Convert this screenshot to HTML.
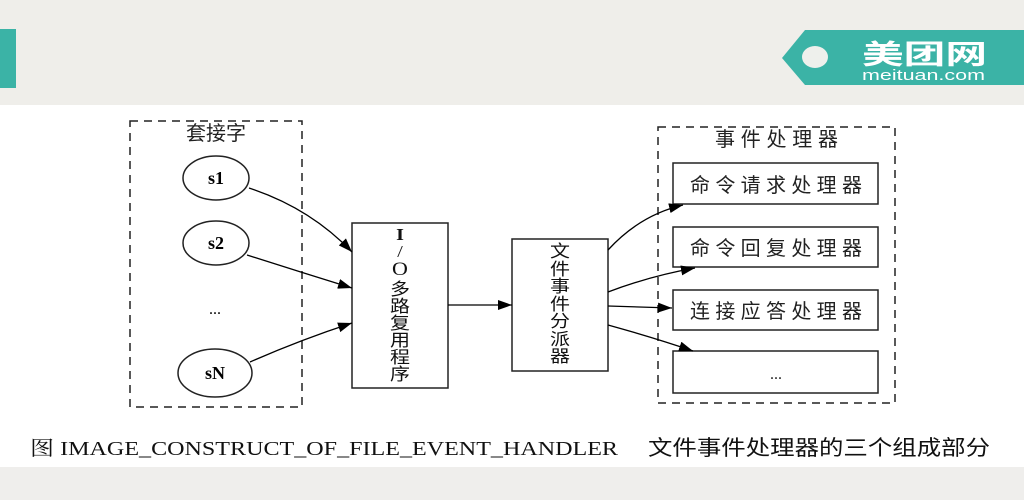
<!DOCTYPE html>
<html><head><meta charset="utf-8"><style>
html,body{margin:0;padding:0;width:1024px;height:500px;overflow:hidden;background:#fff}
svg{display:block}
.cj{font-family:"Liberation Sans","Noto Sans CJK SC",sans-serif}
.sr{font-family:"Liberation Serif","Noto Serif CJK SC",serif}
</style></head><body>
<svg width="1024" height="500" viewBox="0 0 1024 500" xmlns="http://www.w3.org/2000/svg">
<defs>
<marker id="ah" markerWidth="14" markerHeight="10" refX="14" refY="5" orient="auto" markerUnits="userSpaceOnUse">
<path d="M0,0 L14,5 L0,10 z" fill="#000"/>
</marker>
</defs>
<rect x="0" y="0" width="1024" height="105" fill="#efeeea"/>
<rect x="0" y="467" width="1024" height="33" fill="#efeeec"/>
<rect x="0" y="29" width="16" height="59" fill="#3bb3a6"/>
<path d="M805,30 L1024,30 L1024,85 L805,85 L782,58 Z" fill="#3bb3a6"/>
<ellipse cx="815" cy="57" rx="13" ry="11" fill="#eef0ec"/>
<text x="862" y="64" class="cj" font-size="27" font-weight="bold" fill="#fff" textLength="125" lengthAdjust="spacingAndGlyphs">美团网</text>
<text x="862" y="80" font-family="Liberation Sans,sans-serif" font-size="15" fill="#fff" textLength="123" lengthAdjust="spacingAndGlyphs">meituan.com</text>

<g fill="none" stroke="#222" stroke-width="1.5">
<rect x="130" y="121" width="172" height="286" stroke-dasharray="8,6"/>
<rect x="658" y="127" width="237" height="276" stroke-dasharray="8,6"/>
<ellipse cx="216" cy="178" rx="33" ry="22"/>
<ellipse cx="216" cy="243" rx="33" ry="22"/>
<ellipse cx="215" cy="373" rx="37" ry="24"/>
<rect x="352" y="223" width="96" height="165"/>
<rect x="512" y="239" width="96" height="132"/>
<rect x="673" y="163" width="205" height="41"/>
<rect x="673" y="227" width="205" height="40"/>
<rect x="673" y="290" width="205" height="40"/>
<rect x="673" y="351" width="205" height="42"/>
</g>
<g fill="none" stroke="#000" stroke-width="1.3" marker-end="url(#ah)">
<path d="M249,188 Q310,208 352,252"/>
<path d="M247,255 Q300,272 352,288"/>
<path d="M250,362 Q300,340 352,323"/>
<path d="M448,305 L512,305"/>
<path d="M608,250 Q640,215 683,205"/>
<path d="M608,292 Q650,276 695,268"/>
<path d="M608,306 L672,308"/>
<path d="M608,325 Q655,338 693,351"/>
</g>

<text x="216" y="140" class="cj" font-size="20" text-anchor="middle" fill="#222">套接字</text>
<text x="216" y="184" class="sr" font-size="18" font-weight="bold" text-anchor="middle">s1</text>
<text x="216" y="249" class="sr" font-size="18" font-weight="bold" text-anchor="middle">s2</text>
<text x="215" y="314" class="sr" font-size="16" text-anchor="middle">...</text>
<text x="215" y="379" class="sr" font-size="18" font-weight="bold" text-anchor="middle">sN</text>

<g class="cj" font-size="20" text-anchor="middle" fill="#111">
<text transform="translate(400,240) scale(1,0.85)" class="sr" font-weight="bold">I</text>
<text transform="translate(400,257) scale(1,0.85)" class="sr">/</text>
<text transform="translate(400,275) scale(1,0.85)" class="sr" font-size="22">O</text>
<text transform="translate(400,295) scale(1,0.85)">多</text>
<text transform="translate(400,312) scale(1,0.85)">路</text>
<text transform="translate(400,329) scale(1,0.85)">复</text>
<text transform="translate(400,346) scale(1,0.85)">用</text>
<text transform="translate(400,363) scale(1,0.85)">程</text>
<text transform="translate(400,380) scale(1,0.85)">序</text>
</g>

<g class="cj" font-size="20" text-anchor="middle" fill="#111">
<text transform="translate(560,257) scale(1,0.85)">文</text>
<text transform="translate(560,275) scale(1,0.85)">件</text>
<text transform="translate(560,292) scale(1,0.85)">事</text>
<text transform="translate(560,310) scale(1,0.85)">件</text>
<text transform="translate(560,327) scale(1,0.85)">分</text>
<text transform="translate(560,345) scale(1,0.85)">派</text>
<text transform="translate(560,362) scale(1,0.85)">器</text>
</g>

<g class="cj" font-size="20" fill="#222">
<text x="715" y="146" textLength="123" lengthAdjust="spacing">事件处理器</text>
<text x="690" y="192" textLength="172" lengthAdjust="spacing">命令请求处理器</text>
<text x="690" y="255" textLength="172" lengthAdjust="spacing">命令回复处理器</text>
<text x="690" y="318" textLength="172" lengthAdjust="spacing">连接应答处理器</text>
<text x="776" y="379" class="sr" font-size="16" text-anchor="middle">...</text>
</g>

<text x="30" y="455" class="sr" font-size="20" fill="#111" textLength="588" lengthAdjust="spacingAndGlyphs">图 IMAGE_CONSTRUCT_OF_FILE_EVENT_HANDLER</text>
<text x="648" y="455" class="cj" font-size="21" fill="#111" textLength="342" lengthAdjust="spacingAndGlyphs">文件事件处理器的三个组成部分</text>
</svg>
</body></html>
